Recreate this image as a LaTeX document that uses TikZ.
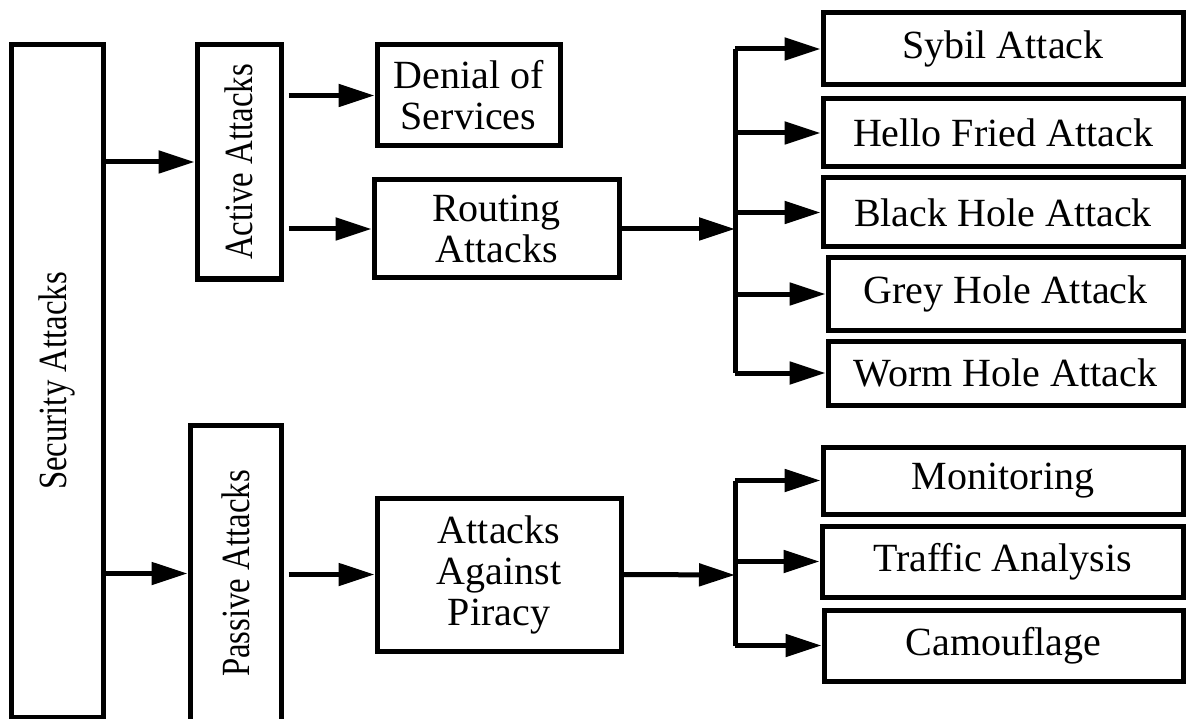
\documentclass[tikz,border=0pt]{standalone}
\usepackage{fontspec}
\setmainfont{Liberation Serif}
\usetikzlibrary{arrows.meta}

\newcommand{\sidetext}[1]{\rotatebox{90}{\scalebox{0.82}[1]{#1}}}

\begin{document}
\begin{tikzpicture}[
    x=1pt, y=-1pt,
    line width=5pt,
    box/.style={draw, inner sep=0pt, align=center,
        font=\fontsize{40}{41}\selectfont},
    arr/.style={-{Triangle[length=36pt,width=22pt]}}
    ]

\useasboundingbox (0,0) rectangle (1188,719);

% left column
\node[box, minimum width=92, minimum height=672] (sec) at (57,381) {\sidetext{Security Attacks}};
\node[box, minimum width=84, minimum height=234] (act) at (239,162) {\sidetext{Active Attacks}};
\node[box, minimum width=91, minimum height=297] (pas) at (235.5,573.5) {\sidetext{Passive Attacks}};

% middle column
\node[box, minimum width=183, minimum height=101] (dos) at (468.5,95.5) {Denial of\\Services};
\node[box, minimum width=245, minimum height=98] (rout) at (496.5,229) {Routing\\Attacks};
\node[box, minimum width=244, minimum height=153] (aap) at (499,574.5) {Attacks\\Against\\Piracy};

% right column
\node[box, minimum width=360, minimum height=72] (sybil) at (1003,49) {Sybil Attack};
\node[box, minimum width=360, minimum height=68] (hello) at (1003,133) {Hello Fried Attack};
\node[box, minimum width=360, minimum height=69] (black) at (1003,212.5) {Black Hole Attack};
\node[box, minimum width=355, minimum height=72] (grey) at (1005.5,294) {Grey Hole Attack};
\node[box, minimum width=355, minimum height=64] (worm) at (1005.5,373) {Worm Hole Attack};

\node[box, minimum width=360, minimum height=67] (mon) at (1003,480.5) {Monitoring};
\node[box, minimum width=361, minimum height=71] (traf) at (1002.5,561.5) {Traffic Analysis};
\node[box, minimum width=359, minimum height=71] (camo) at (1003.5,645.5) {Camouflage};

\coordinate (j1) at (735,229);
\coordinate (j2) at (735,575);

\draw[arr] (sec.east |- act.west) -- (act.west);
\draw[arr] (sec.east |- pas.west) -- (pas.west);
\draw[arr] ([xshift=5pt]act.east |- dos.west) -- (dos.west);
\draw[arr] ([xshift=5pt]act.east |- rout.west) -- (rout.west);
\draw[arr] ([xshift=5pt]pas.east |- aap.west) -- (aap.west);

\draw[arr] (rout.east) -- (j1);
\draw (j1 |- sybil.west) -- (j1 |- worm.west);
\foreach \n in {sybil,hello,black,grey,worm}
    \draw[arr] (j1 |- \n.west) -- (\n.west);

\draw[arr] (aap.east) -- (j2);
\draw (j2 |- mon.west) -- (j2 |- camo.west);
\foreach \n in {mon,traf,camo}
    \draw[arr] (j2 |- \n.west) -- (\n.west);

\end{tikzpicture}
\end{document}
